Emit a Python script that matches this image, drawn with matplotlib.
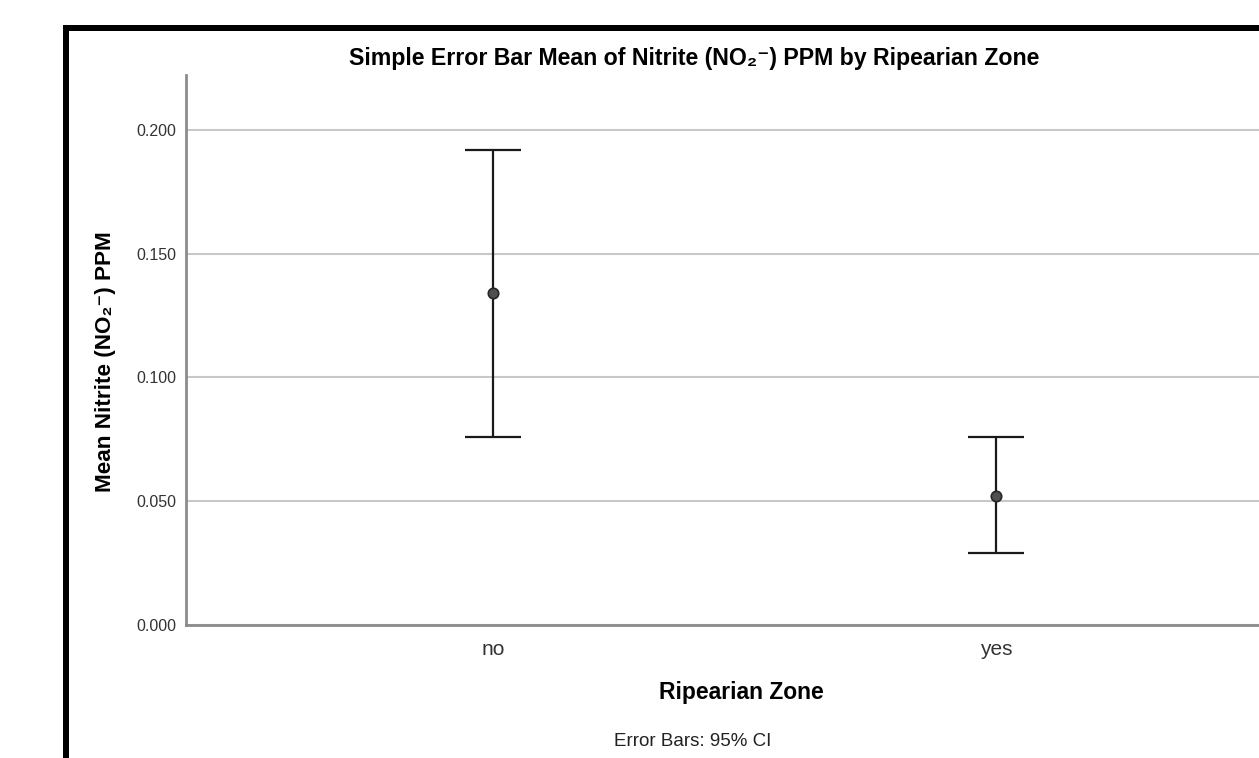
import numpy as np
import matplotlib.pyplot as plt
from matplotlib.patches import Rectangle

plt.rcParams['font.family'] = ['Liberation Sans', 'DejaVu Sans']

# data
zones = ['no', 'yes']
means = [0.134, 0.052]
ci_low = [0.076, 0.029]
ci_high = [0.192, 0.076]
yticks = [0.0, 0.05, 0.10, 0.15, 0.20]

W, H = 1259, 758
fig = plt.figure(figsize=(W / 100, H / 100), dpi=100)

# thick black frame (top and left edges, cropped screenshot)
fig.add_artist(Rectangle((63 / W, 0), 6 / W, 1 - 25 / H, transform=fig.transFigure,
                         color='black', lw=0))
fig.add_artist(Rectangle((63 / W, 1 - 31 / H), 1, 6 / H, transform=fig.transFigure,
                         color='black', lw=0))

ax = fig.add_axes([186 / W, 1 - 625 / H, 1 - 186 / W, (625 - 75) / H])

x = np.arange(len(zones))
means = np.array(means)
lo = means - np.array(ci_low)
hi = np.array(ci_high) - means
ax.errorbar(x, means, yerr=[lo, hi], fmt='none', ecolor='#1a1a1a', elinewidth=1.6,
            capsize=20, capthick=1.6, zorder=3)
ax.plot(x, means, 'o', ms=7.5, mfc='#505050', mec='#262626', mew=1.2, zorder=4)

ax.set_xlim(-0.61, 1.523)
ax.set_ylim(0, 0.2222)
ax.set_yticks(yticks)
ax.set_yticklabels(['%.3f' % v for v in yticks])
ax.set_xticks(x)
ax.set_xticklabels(zones)
ax.tick_params(axis='y', length=0, pad=7, labelsize=11.5, labelcolor='#333333')
ax.tick_params(axis='x', length=0, pad=11, labelsize=15, labelcolor='#333333')
ax.yaxis.grid(True, color='#c8c8c8', lw=1.5)
ax.set_axisbelow(True)
for s in ['top', 'right']:
    ax.spines[s].set_visible(False)
for s in ['left', 'bottom']:
    ax.spines[s].set_color('#8c8c8c')
    ax.spines[s].set_linewidth(2)

fig.text(694 / W, 1 - 58 / H, 'Simple Error Bar Mean of Nitrite (NO\u2082\u207b) PPM by Ripearian Zone',
         ha='center', va='center', fontsize=16.7, fontweight='bold')
fig.text(105 / W, 1 - 362 / H, 'Mean Nitrite (NO\u2082\u207b) PPM', rotation=90,
         ha='center', va='center', fontsize=16.2, fontweight='bold')
fig.text(741 / W, 1 - 693 / H, 'Ripearian Zone', ha='center', va='center',
         fontsize=16.5, fontweight='bold')
fig.text(693 / W, 1 - 741 / H, 'Error Bars: 95% CI', ha='center', va='center',
         fontsize=13.5, color='#222222')

fig.savefig('out.png', dpi=100)
